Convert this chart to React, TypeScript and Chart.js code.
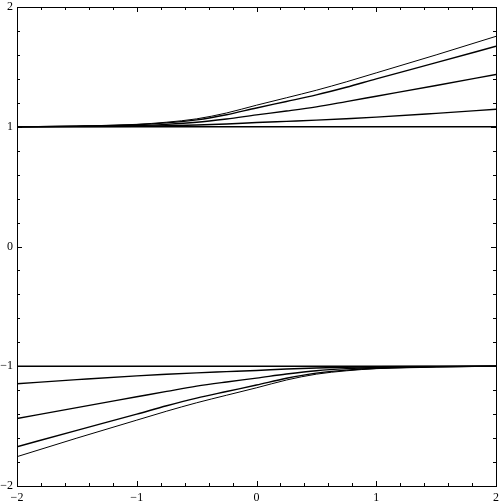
import React, { useEffect, useRef } from "react";
import { Chart, registerables } from "chart.js";

Chart.register(...registerables);

const xValues = [-2, -1.5, -1, -0.75, -0.5, -0.25, 0, 0.25, 0.5, 0.75, 1, 1.5, 2];

const upperA = [1.0, 1.006, 1.02, 1.038, 1.066, 1.115, 1.18, 1.242, 1.305, 1.375, 1.45, 1.6, 1.755];
const upperB = [1.0, 1.005, 1.017, 1.032, 1.057, 1.1, 1.157, 1.211, 1.266, 1.33, 1.4, 1.535, 1.672];
const upperC = [1.0, 1.003, 1.01, 1.02, 1.037, 1.065, 1.099, 1.131, 1.166, 1.21, 1.255, 1.345, 1.437];
const upperD = [1.0, 1.001, 1.004, 1.008, 1.014, 1.023, 1.035, 1.045, 1.055, 1.067, 1.08, 1.112, 1.146];
const upperE = [1, 1, 1, 1, 1, 1, 1, 1, 1, 1, 1, 1, 1];

const lowerA = [-1.755, -1.6, -1.45, -1.375, -1.305, -1.242, -1.18, -1.115, -1.066, -1.038, -1.02, -1.006, -1.0];
const lowerB = [-1.672, -1.535, -1.4, -1.33, -1.266, -1.211, -1.157, -1.1, -1.057, -1.032, -1.017, -1.005, -1.0];
const lowerC = [-1.437, -1.345, -1.255, -1.21, -1.166, -1.131, -1.099, -1.065, -1.037, -1.02, -1.01, -1.003, -1.0];
const lowerD = [-1.146, -1.112, -1.08, -1.067, -1.055, -1.045, -1.035, -1.023, -1.014, -1.008, -1.004, -1.001, -1.0];
const lowerE = [-1, -1, -1, -1, -1, -1, -1, -1, -1, -1, -1, -1, -1];

const series = [upperA, upperB, upperC, upperD, upperE, lowerA, lowerB, lowerC, lowerD, lowerE];
const seriesWidths = [1, 1.4, 1.4, 1.4, 1.4, 1, 1.4, 1.4, 1.4, 1.4];

const majorTicks = [-2, -1, 0, 1, 2];
const minorTicks = [-1.8, -1.6, -1.4, -1.2, -0.8, -0.6, -0.4, -0.2, 0.2, 0.4, 0.6, 0.8, 1.2, 1.4, 1.6, 1.8];

const fmt = (v: number) => (v < 0 ? "\u2212" + Math.abs(v) : String(v));

const framePlugin = {
  id: "frameTicks",
  afterDraw(chart: any) {
    const { ctx, chartArea } = chart;
    const xs = chart.scales.x;
    const ys = chart.scales.y;
    const { left, right, top, bottom } = chartArea;
    ctx.save();
    ctx.strokeStyle = "#000";
    ctx.lineWidth = 1;
    ctx.beginPath();
    const drawTicks = (vals: number[], len: number) => {
      vals.forEach((v) => {
        const px = Math.round(xs.getPixelForValue(v)) + 0.5;
        ctx.moveTo(px, bottom);
        ctx.lineTo(px, bottom - len);
        ctx.moveTo(px, top);
        ctx.lineTo(px, top + len);
        const py = Math.round(ys.getPixelForValue(v)) + 0.5;
        ctx.moveTo(left, py);
        ctx.lineTo(left + len, py);
        ctx.moveTo(right, py);
        ctx.lineTo(right - len, py);
      });
    };
    drawTicks(majorTicks, 5);
    drawTicks(minorTicks, 3);
    ctx.stroke();
    ctx.strokeRect(Math.round(left) + 0.5, Math.round(top) + 0.5, Math.round(right - left), Math.round(bottom - top));
    ctx.restore();
  },
};

export default function App() {
  const ref = useRef<HTMLCanvasElement | null>(null);
  useEffect(() => {
    if (!ref.current) return;
    const chart = new Chart(ref.current, {
      type: "line",
      data: {
        datasets: series.map((s, i) => ({
          data: s.map((y, j) => ({ x: xValues[j], y })),
          borderColor: "#000",
          borderWidth: seriesWidths[i],
          pointRadius: 0,
          fill: false,
          cubicInterpolationMode: "monotone" as const,
        })),
      },
      options: {
        animation: false,
        responsive: false,
        maintainAspectRatio: false,
        layout: { padding: { left: 0, top: 7, right: 4, bottom: 0 } },
        plugins: { legend: { display: false }, tooltip: { enabled: false } },
        scales: {
          x: {
            type: "linear",
            min: -2,
            max: 2,
            afterFit: (s: any) => {
              s.height = 18;
              s.paddingLeft = 0;
              s.paddingRight = 0;
            },
            grid: { display: false, drawTicks: false },
            border: { display: false },
            afterBuildTicks: (s: any) => {
              s.ticks = majorTicks.map((v) => ({ value: v }));
            },
            ticks: {
              color: "#000",
              padding: 5,
              maxRotation: 0,
              autoSkip: false,
              font: { family: "'Liberation Serif', 'DejaVu Serif', serif", size: 12 },
              callback: (v: any) => fmt(Number(v)),
            },
          },
          y: {
            type: "linear",
            min: -2,
            max: 2,
            afterFit: (s: any) => {
              s.width = 17;
              s.paddingTop = 0;
              s.paddingBottom = 0;
            },
            grid: { display: false, drawTicks: false },
            border: { display: false },
            afterBuildTicks: (s: any) => {
              s.ticks = majorTicks.map((v) => ({ value: v }));
            },
            ticks: {
              color: "#000",
              padding: 4,
              autoSkip: false,
              font: { family: "'Liberation Serif', 'DejaVu Serif', serif", size: 12 },
              callback: (v: any) => fmt(Number(v)),
            },
          },
        },
      },
      plugins: [framePlugin],
    });
    return () => chart.destroy();
  }, []);
  return (
    <div style={{ position: "absolute", left: 0, top: 0, width: 500, height: 504, background: "#fff" }}>
      <canvas ref={ref} width={500} height={504} style={{ width: 500, height: 504 }} />
    </div>
  );
}
